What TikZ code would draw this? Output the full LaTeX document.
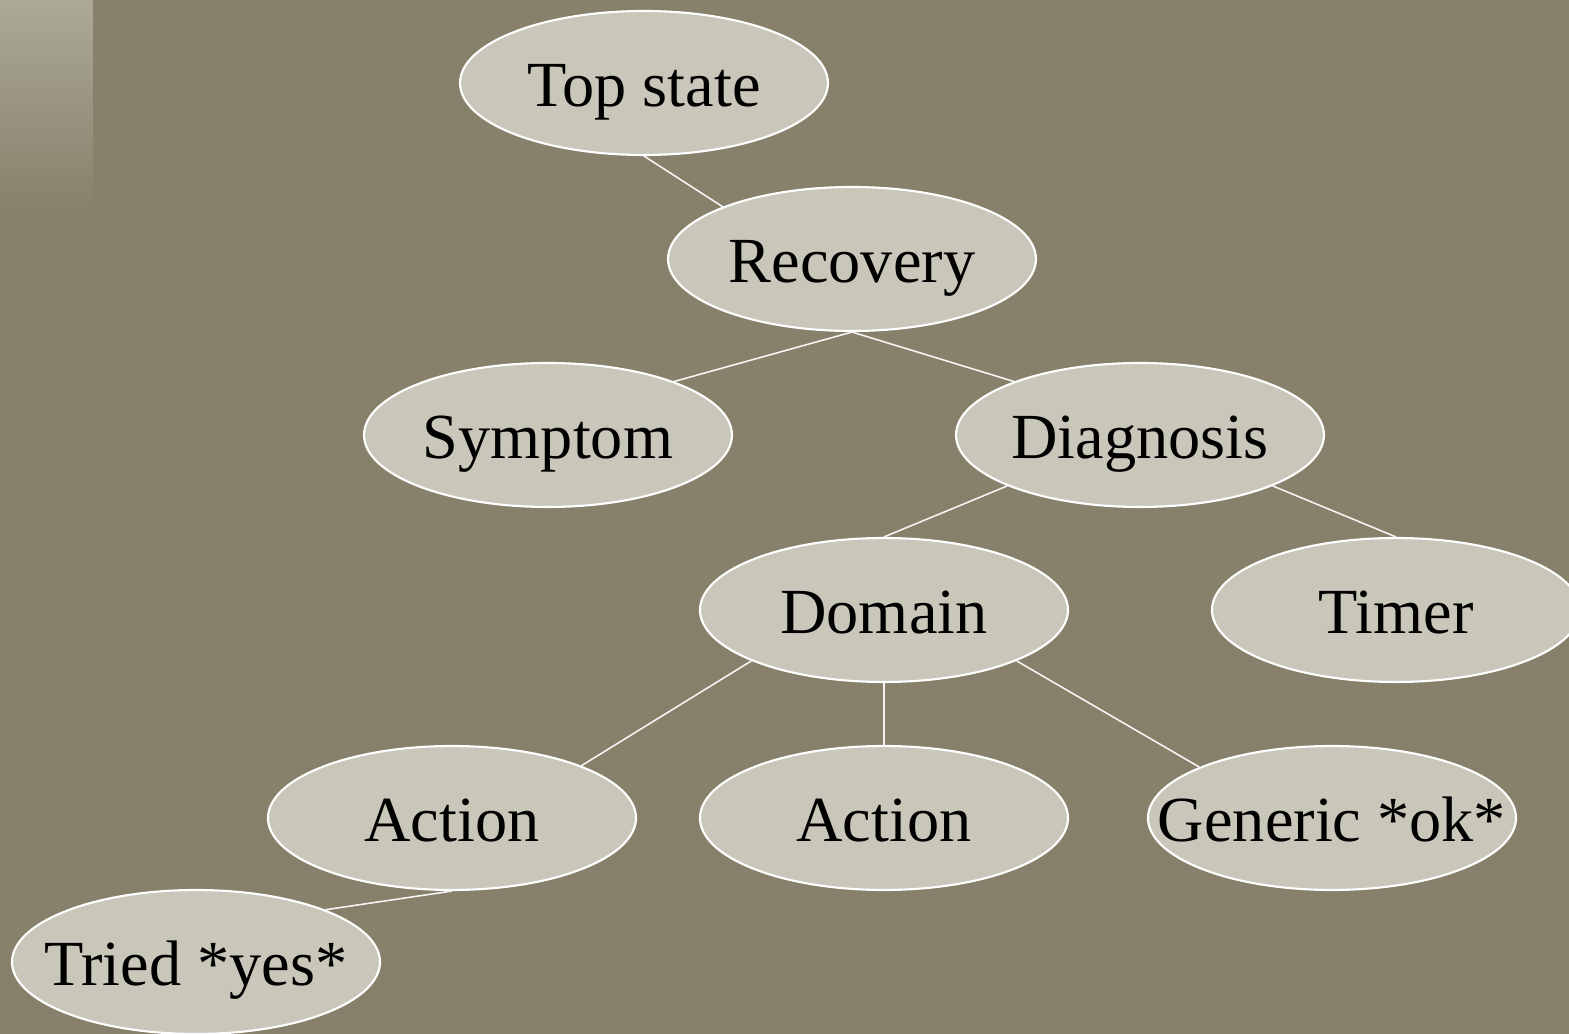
\documentclass[tikz,border=0pt]{standalone}
\usepackage{fontspec}
\setmainfont{Liberation Serif}
\usetikzlibrary{positioning, shapes.geometric}
\definecolor{fondo}{RGB}{135,128,106}
\definecolor{relleno}{RGB}{201,199,186}
\definecolor{brillo}{RGB}{172,169,153}
\tikzstyle{Estado}=[ellipse, draw=white, fill=relleno, line width=0.6pt, minimum width=36.8mm, minimum height=14.4mm, inner ysep=0pt, inner xsep=-6mm, text height=13.6pt, text depth=0pt, font=\fontsize{18.3}{20}\selectfont]
\tikzstyle{Rama}=[-, draw=white!92!fondo, line width=0.45pt]

\begin{document}
\begin{tikzpicture}[on grid]
			%Fondo
			\fill[fondo] (0,0) rectangle (15.69,-10.34);
			\shade[top color=brillo, bottom color=fondo] (0,0) rectangle (0.93,-2.1);
			\useasboundingbox (0,0) rectangle (15.69,-10.34);

			%Nodos
			\node[Estado]	(top)		at (6.44,-0.83)						{Top state};
			\node[Estado]	(recovery)	[below right=1.76cm and 2.08cm of top]		{Recovery};
			\node[Estado]	(symptom)	[below left=1.76cm and 3.04cm of recovery]	{Symptom};
			\node[Estado]	(diagnosis)	[below right=1.76cm and 2.88cm of recovery]	{Diagnosis};
			\node[Estado]	(domain)	[below left=1.75cm and 2.56cm of diagnosis]	{Domain};
			\node[Estado]	(timer)		[below right=1.75cm and 2.56cm of diagnosis]	{Timer};
			\node[Estado]	(action2)	[below=2.08cm of domain]				{Action};
			\node[Estado]	(action1)	[left=4.32cm of action2]				{Action};
			\node[Estado]	(generic)	[right=4.48cm of action2]				{Generic *ok*};
			\node[Estado]	(tried)		[below left=1.44cm and 2.56cm of action1]	{Tried *yes*};

			%Lineas
			\draw[Rama] (top.south) -- (recovery.158);
			\draw[Rama] (recovery.south) -- (symptom.23);
			\draw[Rama] (recovery.south) -- (diagnosis.157);
			\draw[Rama] (diagnosis.201) -- (domain.north);
			\draw[Rama] (diagnosis.339) -- (timer.north);
			\draw[Rama] (domain.201) -- (action1.22);
			\draw[Rama] (domain.south) -- (action2.north);
			\draw[Rama] (domain.339) -- (generic.159);
			\draw[Rama] (action1.south) -- (tried.22);

		\end{tikzpicture}
\end{document}
